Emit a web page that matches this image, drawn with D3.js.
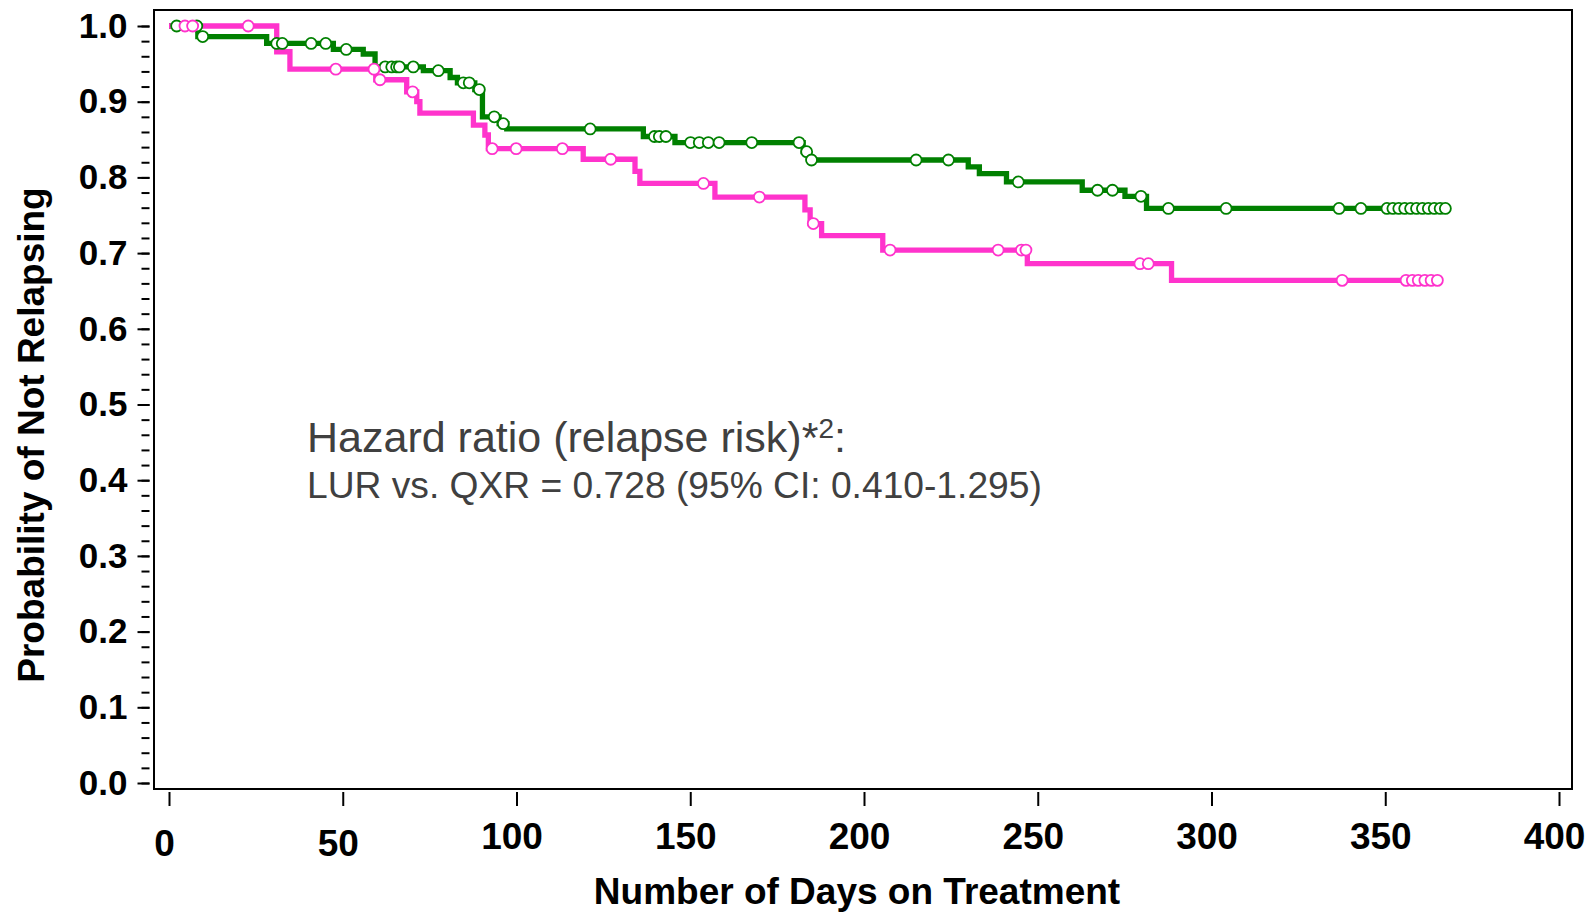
<!DOCTYPE html>
<html>
<head>
<meta charset="UTF-8">
<title>Probability of Not Relapsing</title>
<script src="https://d3js.org/d3.v7.min.js"></script>
<style>
  body { margin: 0; background: #fff; }
  svg text { font-family: "Liberation Sans", Arial, sans-serif; }
  .axis-title { font-weight: bold; font-size: 37px; fill: #000; }
  .note { fill: #404040; }
</style>
</head>
<body>
<svg id="chart" width="1594" height="913"></svg>
<script>
// step curves: day of each drop and the survival after it
const lurEventDays = [8.3, 28.1, 47.3, 55.9, 59.3, 73.2, 80.9, 83.0, 88.0, 90.2, 95.0, 97.2, 136.5, 145.6, 182.5, 184.2, 230.0, 233.2, 241.0, 262.8, 275.1, 281.3];
const lurEventSurv = [0.986, 0.977, 0.969, 0.963, 0.946, 0.941, 0.932, 0.925, 0.916, 0.880, 0.871, 0.864, 0.854, 0.846, 0.834, 0.823, 0.814, 0.805, 0.794, 0.783, 0.775, 0.759];
const lurCensorDays = [2.2, 8.0, 9.7, 31.0, 32.6, 40.9, 45.1, 51.0, 62.2, 64.1, 65.5, 66.3, 70.3, 77.5, 84.7, 86.4, 89.3, 93.6, 96.2, 121.2, 139.7, 141.1, 143.0, 150.1, 152.6, 155.2, 158.3, 167.7, 181.3, 183.5, 184.9, 215.0, 224.3, 244.4, 267.2, 271.5, 279.7, 287.6, 304.2, 336.7, 343.0, 350.5, 352.2, 353.9, 355.6, 357.3, 359.0, 360.7, 362.4, 364.1, 365.8, 367.3];
const lurEndDay = 368.3;

const qxrEventDays = [31.0, 34.8, 59.5, 68.4, 71.3, 72.2, 87.6, 90.9, 91.9, 119.2, 134.1, 135.5, 157.1, 183.0, 184.5, 187.8, 205.4, 247.0, 288.5];
const qxrEventSurv = [0.966, 0.943, 0.929, 0.913, 0.900, 0.885, 0.869, 0.856, 0.838, 0.824, 0.808, 0.792, 0.774, 0.757, 0.739, 0.723, 0.704, 0.686, 0.664];
const qxrCensorDays = [4.6, 6.8, 22.8, 48.0, 59.0, 60.7, 70.1, 93.0, 99.9, 113.2, 127.1, 153.8, 169.9, 185.4, 207.5, 238.6, 245.3, 246.6, 279.4, 281.8, 337.6, 356.0, 357.8, 359.5, 361.4, 363.2, 365.0];
const qxrEndDay = 366.2;

const xTicks = [0, 50, 100, 150, 200, 250, 300, 350, 400];
const yTicks = [0, 0.1, 0.2, 0.3, 0.4, 0.5, 0.6, 0.7, 0.8, 0.9, 1.0];

const xTitle = 'Number of Days on Treatment';
const yTitle = 'Probability of Not Relapsing';
const noteLine1 = ['Hazard ratio (relapse risk)*', '2', ':'];
const noteLine2 = 'LUR vs. QXR = 0.728 (95% CI: 0.410-1.295)';

const svg = d3.select('#chart');

const x = d3.scaleLinear().domain([0, 400]).range([169, 1559]);
const y = d3.scaleLinear().domain([0, 1]).range([783, 26]);

// frame
svg.append('rect')
  .attr('x', 154).attr('y', 10)
  .attr('width', 1418).attr('height', 779)
  .attr('fill', 'none').attr('stroke', '#000').attr('stroke-width', 2);

// y axis: minor ticks then major ticks with labels
const gyMinor = svg.append('g').attr('transform', 'translate(149.5,0)')
  .call(d3.axisLeft(y).tickValues(y.ticks(50)).tickSize(8).tickFormat(''));
gyMinor.select('.domain').remove();
gyMinor.selectAll('line').attr('stroke', '#000').attr('stroke-width', 2);

const gy = svg.append('g').attr('transform', 'translate(149.5,0)')
  .call(d3.axisLeft(y).tickValues(yTicks).tickSize(12).tickPadding(10).tickFormat(d3.format('.1f')));
gy.select('.domain').remove();
gy.attr('font-family', null).attr('font-size', 35).attr('font-weight', 'bold');
gy.selectAll('line').attr('stroke', '#000').attr('stroke-width', 2);
gy.selectAll('text').attr('fill', '#000');

// x axis
const gx = svg.append('g').attr('transform', 'translate(0,792)')
  .call(d3.axisBottom(x).tickValues(xTicks).tickSize(14).tickFormat(d3.format('d')));
gx.select('.domain').remove();
gx.attr('font-family', null).attr('font-size', 37).attr('font-weight', 'bold');
gx.selectAll('line').attr('stroke', '#000').attr('stroke-width', 2);
gx.selectAll('text')
  .attr('fill', '#000')
  .attr('x', -5)
  .attr('y', d => d < 100 ? 38 : 31);

svg.append('text')
  .attr('class', 'axis-title')
  .attr('x', 857).attr('y', 904)
  .attr('text-anchor', 'middle')
  .text(xTitle);

svg.append('text')
  .attr('class', 'axis-title')
  .attr('transform', 'translate(44,435) rotate(-90)')
  .attr('text-anchor', 'middle')
  .text(yTitle);

// curves
function stepPoints(days, surv, endDay) {
  const pts = [{ t: 0, s: 1 }];
  days.forEach((t, i) => pts.push({ t: t, s: surv[i] }));
  pts.push({ t: endDay, s: surv[surv.length - 1] });
  return pts;
}

function survAt(days, surv, t) {
  let s = 1;
  days.forEach((d, i) => { if (d <= t) s = surv[i]; });
  return s;
}

const line = d3.line()
  .x(d => x(d.t))
  .y(d => y(d.s))
  .curve(d3.curveStepAfter);

const groups = [
  { days: lurEventDays, surv: lurEventSurv, censor: lurCensorDays, end: lurEndDay, color: '#008000' },
  { days: qxrEventDays, surv: qxrEventSurv, censor: qxrCensorDays, end: qxrEndDay, color: '#ff33cc' }
];

groups.forEach(g => {
  svg.append('path')
    .datum(stepPoints(g.days, g.surv, g.end))
    .attr('d', line)
    .attr('fill', 'none')
    .attr('stroke', g.color)
    .attr('stroke-width', 5.3);
});

groups.forEach(g => {
  svg.append('g').selectAll('circle')
    .data(g.censor)
    .enter()
    .append('circle')
    .attr('cx', d => x(d))
    .attr('cy', d => y(survAt(g.days, g.surv, d)))
    .attr('r', 5.5)
    .attr('fill', '#fff')
    .attr('stroke', g.color)
    .attr('stroke-width', 1.8);
});

// hazard ratio note
const note1 = svg.append('text').attr('class', 'note')
  .attr('x', 307).attr('y', 452).attr('font-size', 43);
note1.append('tspan').text(noteLine1[0]);
note1.append('tspan').attr('font-size', 28).attr('dy', -14).text(noteLine1[1]);
note1.append('tspan').attr('dy', 14).text(noteLine1[2]);

svg.append('text').attr('class', 'note')
  .attr('x', 307).attr('y', 498).attr('font-size', 37.2)
  .text(noteLine2);
</script>
</body>
</html>
